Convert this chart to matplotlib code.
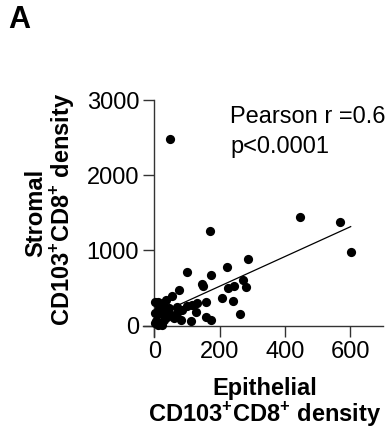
import matplotlib
matplotlib.use("Agg")
import matplotlib.pyplot as plt
import numpy as np

plt.rcParams['font.family'] = ['Liberation Sans', 'DejaVu Sans']
plt.rcParams['mathtext.fontset'] = 'custom'
plt.rcParams['mathtext.rm'] = 'Liberation Sans'
plt.rcParams['mathtext.bf'] = 'Liberation Sans:bold'

# Epithelial (x) vs Stromal (y) CD103+CD8+ density
epithelial = [47, 447, 569, 601, 170, 287, 222, 100, 172, 145, 150, 271, 244, 224, 279,
              208, 241, 263, 75, 55, 157, 131, 116, 100, 126, 157, 172, 111, 80, 59,
              85, 70, 70, 3, 12, 25, 35, 3, 12, 22, 28, 38, 3, 10, 18, 5, 22, 30, 45,
              50, 40, 15]
stromal = [2476, 1450, 1375, 977, 1260, 884, 787, 712, 678, 560, 530, 610, 522, 500, 510,
           365, 322, 157, 472, 398, 309, 303, 278, 256, 176, 115, 82, 60, 82, 102,
           212, 250, 170, 320, 318, 298, 338, 170, 150, 172, 170, 215, 30, 10, 40, 60, 15, 80, 240,
           140, 110, 230]

fit_x = [0, 601]
fit_y = [130, 1317]

x_ticks = [0, 200, 400, 600]
y_ticks = [0, 1000, 2000, 3000]

W, H = 392, 430
fig = plt.figure(figsize=(W/100, H/100), dpi=100)
ax = fig.add_axes([143/W, 1-337/H, (383-143)/W, (337-100)/H])

ax.scatter(epithelial, stromal, s=44, color='black', zorder=3, linewidths=0)
ax.plot(fit_x, fit_y, color='black', lw=0.9, zorder=2)

ax.set_xlim(-35, 700)
ax.set_ylim(-150, 3000)
ax.spines['left'].set_position(('data', 0))
ax.spines['bottom'].set_position(('data', 0))
ax.spines['right'].set_visible(False)
ax.spines['top'].set_visible(False)
for s in ['left', 'bottom']:
    ax.spines[s].set_linewidth(1.0)
    ax.spines[s].set_color('#333333')

ax.set_xticks(x_ticks)
ax.set_yticks(y_ticks)
ax.tick_params(direction='out', length=8, width=1.0, color='#333333', labelsize=17, pad=3)

ax.text(232, 2692, 'Pearson r =0.6', fontsize=17, va='baseline', ha='left', clip_on=False)
ax.text(232, 2294, 'p<0.0001', fontsize=17, va='baseline', ha='left', clip_on=False)

dens = 'CD103$^{\\mathbf{+}}$CD8$^{\\mathbf{+}}$ density'
# x-axis label (two lines)
fig.text(265/W, 1-395/H, 'Epithelial', fontsize=17, fontweight='bold',
         ha='center', va='baseline')
fig.text(265/W, 1-422/H, dens, fontsize=17, fontweight='bold',
         ha='center', va='baseline')
# y-axis label (two lines, rotated)
fig.text(42/W, 1-213/H, 'Stromal', fontsize=17, fontweight='bold', rotation=90,
         rotation_mode='anchor', ha='center', va='baseline')
fig.text(70/W, 1-209/H, dens, fontsize=17, fontweight='bold', rotation=90,
         rotation_mode='anchor', ha='center', va='baseline')

fig.text(8/W, 1-5/H, 'A', fontsize=22, fontweight='bold', va='top', ha='left')

fig.savefig('out.png', dpi=100)
